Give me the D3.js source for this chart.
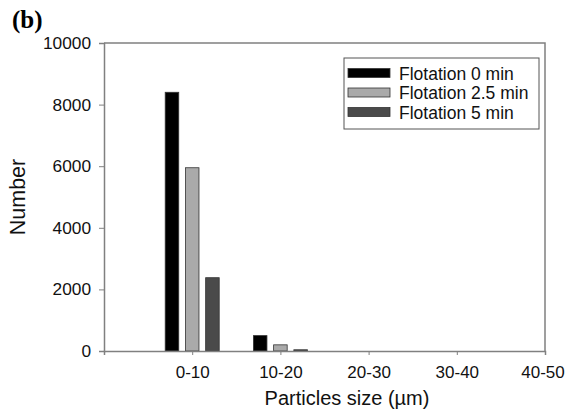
<!DOCTYPE html>
<html>
<head>
<meta charset="utf-8">
<script src="https://cdn.jsdelivr.net/npm/d3@7"></script>
<style>
  body { margin: 0; background: #fff; }
  svg { display: block; }
</style>
</head>
<body>
<div id="chart"></div>
<script>
// categories on the x axis (first slot is empty, as in the original plot)
const categories = ["", "0-10", "10-20", "20-30", "30-40", "40-50"];
const seriesNames = ["Flotation 0 min", "Flotation 2.5 min", "Flotation 5 min"];
const flot0 = [null, 8400, 500, 0, 0, 0];
const flot25 = [null, 5950, 200, 0, 0, 0];
const flot5 = [null, 2380, 40, 0, 0, 0];
const yTicks = [0, 2000, 4000, 6000, 8000, 10000];

const width = 566, height = 414;
const margin = { top: 43, right: 21, bottom: 63, left: 104 };
const font = "Arial, 'Liberation Sans', sans-serif";

const fills = ["#000000", "#aaaaaa", "#4a4a4a"];

const svg = d3.select("#chart")
  .append("svg")
  .attr("width", width)
  .attr("height", height)
  .style("font-family", font);

const x = d3.scalePoint()
  .domain(categories)
  .range([margin.left, width - margin.right]);

const y = d3.scaleLinear()
  .domain([0, 10000])
  .range([height - margin.bottom, margin.top]);

// offsets of the three bars inside a group
const sub = d3.scaleBand()
  .domain(seriesNames)
  .range([-27, 27])
  .paddingInner(0.33);

const series = [flot0, flot25, flot5];

// frame (top and right)
svg.append("path")
  .attr("d", `M${margin.left},${margin.top}H${width - margin.right}V${height - margin.bottom}`)
  .attr("fill", "none")
  .attr("stroke", "#808080")
  .attr("stroke-width", 1.5);

// bars
series.forEach((vals, i) => {
  svg.append("g")
    .selectAll("rect")
    .data(categories.map((c, j) => ({ c, v: vals[j] })).filter(d => d.v > 0))
    .join("rect")
    .attr("x", d => x(d.c) + sub(seriesNames[i]))
    .attr("y", d => y(d.v))
    .attr("width", sub.bandwidth())
    .attr("height", d => y(0) - y(d.v))
    .attr("fill", fills[i])
    .attr("stroke", "#333")
    .attr("stroke-width", 0.8);
});

// y axis
const yAxis = svg.append("g")
  .attr("transform", `translate(${margin.left},0)`)
  .call(d3.axisLeft(y).tickValues(yTicks).tickSize(5).tickPadding(8).tickFormat(d3.format("d")));
yAxis.select(".domain").attr("stroke", "#808080").attr("stroke-width", 1.5);
yAxis.selectAll(".tick line").attr("stroke", "#808080");
yAxis.selectAll("text").attr("font-size", 17.3).attr("fill", "#111").attr("font-family", font);

// x axis
const xAxis = svg.append("g")
  .attr("transform", `translate(0,${height - margin.bottom})`)
  .call(d3.axisBottom(x).tickValues(categories.slice(1)).tickSize(4).tickPadding(11));
xAxis.select(".domain").attr("stroke", "#808080").attr("stroke-width", 1.5);
xAxis.selectAll(".tick line").attr("stroke", "#808080");
xAxis.selectAll("text").attr("font-size", 17).attr("fill", "#111").attr("font-family", font);
// last label sits right at the page edge; pull it in a touch so it stays whole
xAxis.selectAll(".tick").filter(d => d === "40-50").select("text").attr("x", -2.5);

// axis titles
svg.append("text")
  .attr("transform", `translate(25,${(margin.top + height - margin.bottom) / 2}) rotate(-90)`)
  .attr("text-anchor", "middle")
  .attr("font-size", 21.5)
  .attr("fill", "#111")
  .text("Number");

svg.append("text")
  .attr("x", 347)
  .attr("y", 405)
  .attr("text-anchor", "middle")
  .attr("font-size", 20)
  .attr("fill", "#111")
  .text("Particles size (µm)");

// panel label
svg.append("text")
  .attr("x", 12)
  .attr("y", 28)
  .attr("font-family", "'Liberation Serif', 'Times New Roman', serif")
  .attr("font-weight", "bold")
  .attr("font-size", 25)
  .text("(b)");

// legend
const legend = svg.append("g").attr("transform", "translate(344,58)");
legend.append("rect")
  .attr("width", 195).attr("height", 71)
  .attr("fill", "#fff").attr("stroke", "#555").attr("stroke-width", 1);
seriesNames.forEach((name, i) => {
  const row = legend.append("g").attr("transform", `translate(0,${15 + i * 19.5})`);
  row.append("rect")
    .attr("x", 4).attr("y", -4.5).attr("width", 42).attr("height", 9)
    .attr("fill", fills[i]).attr("stroke", "#333").attr("stroke-width", 0.8);
  row.append("text")
    .attr("x", 55).attr("y", 6.5)
    .attr("font-size", 17.5).attr("fill", "#111")
    .text(name);
});
</script>
</body>
</html>
